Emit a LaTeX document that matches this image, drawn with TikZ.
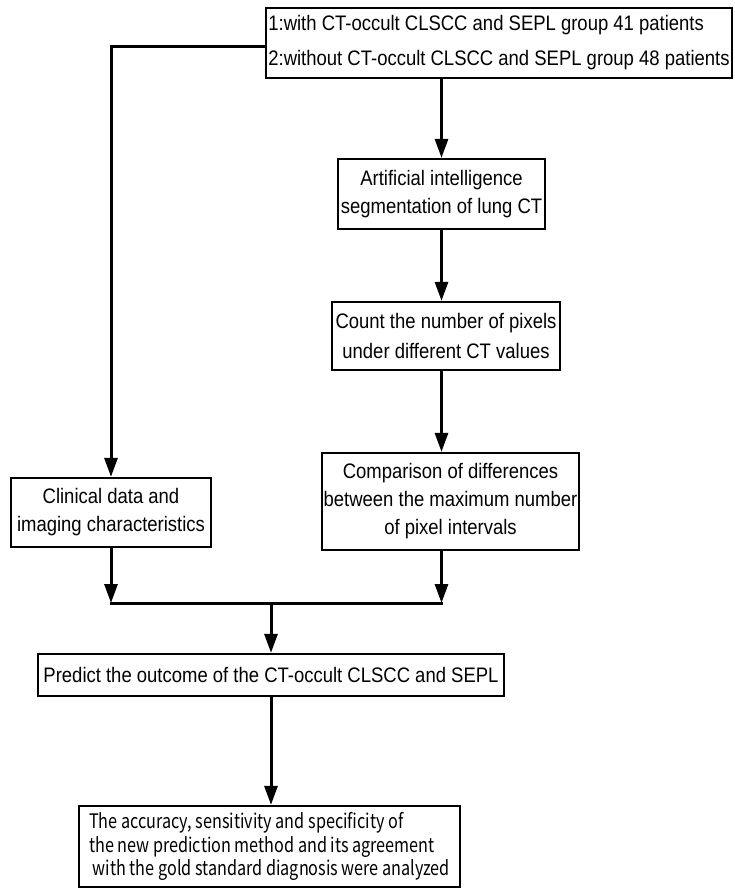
\documentclass[tikz,border=0pt]{standalone}
\usepackage{fontspec}
\setmainfont{Liberation Sans}[FakeStretch=0.88]
\newfontfamily\gothic{Noto Sans CJK JP}[FakeStretch=0.81]
\usetikzlibrary{arrows.meta}
\begin{document}
\begin{tikzpicture}[x=1pt,y=-1pt,
  box/.style={draw, line width=2.3pt, rectangle, inner sep=0pt, align=center,
    font=\fontsize{21}{28}\selectfont},
  conn/.style={line width=3pt, -{Triangle[length=19pt,width=13pt]}},
  plainline/.style={line width=3pt, line cap=rect}]
\useasboundingbox (0,0) rectangle (734,889);
\node[box, minimum width=466pt, minimum height=70pt, align=left,
  font=\fontsize{21}{35}\selectfont] (top) at (499,43)
  {1:with CT-occult CLSCC and SEPL group 41 patients\\2:without CT-occult CLSCC and SEPL group 48 patients};
\node[box, minimum width=207pt, minimum height=70pt] (ai) at (441.5,194)
  {Artificial intelligence\\segmentation of lung CT};
\node[box, minimum width=228pt, minimum height=68pt, font=\fontsize{21}{30}\selectfont] (count) at (446,336)
  {Count the number of pixels\\under different CT values};
\node[box, minimum width=257pt, minimum height=97pt] (comp) at (450.5,501.5)
  {Comparison of differences\\between the maximum number\\of pixel intervals};
\node[box, minimum width=200pt, minimum height=69pt] (clin) at (111,512.5)
  {Clinical data and\\imaging characteristics};
\node[box, minimum width=466pt, minimum height=42pt] (pred) at (271,675)
  {Predict the outcome of the CT-occult CLSCC and SEPL};
\node[box, minimum width=381pt, minimum height=81pt, align=left,
  font=\gothic\fontsize{20}{23.5}\selectfont] (final) at (269.5,846.5)
  {The accuracy, sensitivity and specificity of\\the new prediction method and its agreement\\\ with the gold standard diagnosis were analyzed};
\coordinate (jy) at (0,603);
\draw[conn] ([yshift=-3pt]top.west) -| (clin.north);
\draw[conn] (ai.north |- top.south) -- (ai.north);
\draw[conn] (ai.south) -- (ai.south |- count.north);
\draw[conn] (ai.south |- count.south) -- (ai.south |- comp.north);
\draw[conn] (clin.south) -- (clin.south |- jy);
\draw[conn] (ai.south |- comp.south) -- (ai.south |- jy);
\draw[plainline] (clin.south |- jy) -- (ai.south |- jy);
\draw[conn] (pred.north |- jy) -- (pred.north);
\draw[conn] (pred.south) -- (pred.south |- final.north);
\end{tikzpicture}
\end{document}
